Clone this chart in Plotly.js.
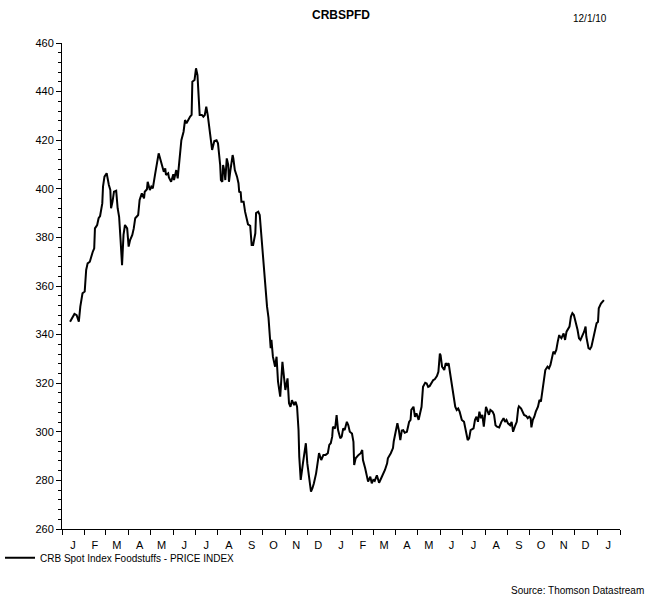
<!DOCTYPE html>
<html>
<head>
<meta charset="utf-8">
<script src="https://cdn.plot.ly/plotly-3.0.1.min.js"></script>
<style>html,body{margin:0;padding:0;background:#fff;}#chart{width:650px;height:603px;}</style>
</head>
<body>
<div id="chart"></div>
<script>
// CRB Spot Index Foodstuffs - PRICE INDEX
const dates = [
"2008-01-12","2008-01-18","2008-01-21","2008-01-24","2008-01-26","2008-01-29","2008-02-01","2008-02-03","2008-02-05","2008-02-08",
"2008-02-12","2008-02-14","2008-02-15","2008-02-18","2008-02-20","2008-02-22","2008-02-25","2008-02-26","2008-02-28","2008-03-02",
"2008-03-05","2008-03-07","2008-03-08","2008-03-10","2008-03-12","2008-03-15","2008-03-17","2008-03-19","2008-03-21","2008-03-22",
"2008-03-23","2008-03-25","2008-03-27","2008-03-30","2008-04-01","2008-04-03","2008-04-06","2008-04-08","2008-04-10","2008-04-14",
"2008-04-16","2008-04-19","2008-04-22","2008-04-23","2008-04-26","2008-04-27","2008-04-30","2008-05-02","2008-05-04","2008-05-07",
"2008-05-09","2008-05-12","2008-05-14","2008-05-17","2008-05-19","2008-05-21","2008-05-22","2008-05-25","2008-05-26","2008-05-29",
"2008-06-01","2008-06-02","2008-06-05","2008-06-07","2008-06-09","2008-06-10","2008-06-12","2008-06-15","2008-06-17","2008-06-19",
"2008-06-21","2008-06-24","2008-06-26","2008-06-27","2008-06-30","2008-07-02","2008-07-04","2008-07-05","2008-07-07","2008-07-10",
"2008-07-12","2008-07-14","2008-07-16","2008-07-18","2008-07-20","2008-07-22","2008-07-24","2008-07-27","2008-07-30","2008-08-01",
"2008-08-04","2008-08-05","2008-08-07","2008-08-08","2008-08-10","2008-08-11","2008-08-13","2008-08-15","2008-08-16","2008-08-18",
"2008-08-21","2008-08-22","2008-08-24","2008-08-27","2008-08-29","2008-08-30","2008-09-01","2008-09-02","2008-09-05","2008-09-07",
"2008-09-09","2008-09-11","2008-09-14","2008-09-16","2008-09-18","2008-09-21","2008-09-22","2008-09-25","2008-09-27","2008-09-29",
"2008-10-01","2008-10-03","2008-10-05","2008-10-07","2008-10-09","2008-10-11","2008-10-12","2008-10-13","2008-10-15","2008-10-18",
"2008-10-20","2008-10-22","2008-10-25","2008-10-28","2008-10-30","2008-11-01","2008-11-04","2008-11-06","2008-11-08","2008-11-10",
"2008-11-13","2008-11-15","2008-11-17","2008-11-19","2008-11-20","2008-11-21","2008-11-22","2008-11-25","2008-11-27","2008-11-29",
"2008-12-01","2008-12-02","2008-12-05","2008-12-06","2008-12-08","2008-12-10","2008-12-13","2008-12-15","2008-12-17","2008-12-20",
"2008-12-23","2008-12-26","2008-12-29","2008-12-31","2009-01-02","2009-01-04","2009-01-05","2009-01-08","2009-01-10","2009-01-12",
"2009-01-15","2009-01-17","2009-01-19","2009-01-21","2009-01-24","2009-01-26","2009-01-28","2009-01-31","2009-02-02","2009-02-03",
"2009-02-05","2009-02-09","2009-02-12","2009-02-14","2009-02-15","2009-02-18","2009-02-20","2009-02-22","2009-02-25","2009-02-27",
"2009-03-01","2009-03-03","2009-03-06","2009-03-09","2009-03-12","2009-03-14","2009-03-17","2009-03-20","2009-03-21","2009-03-25",
"2009-03-28","2009-03-29","2009-04-01","2009-04-03","2009-04-05","2009-04-07","2009-04-09","2009-04-11","2009-04-13","2009-04-16",
"2009-04-18","2009-04-19","2009-04-21","2009-04-22","2009-04-25","2009-04-27","2009-04-29","2009-05-02","2009-05-04","2009-05-06",
"2009-05-08","2009-05-11","2009-05-13","2009-05-15","2009-05-17","2009-05-20","2009-05-22","2009-05-24","2009-05-27","2009-05-29",
"2009-05-31","2009-06-01","2009-06-03","2009-06-06","2009-06-08","2009-06-10","2009-06-12","2009-06-14","2009-06-16","2009-06-18",
"2009-06-21","2009-06-23","2009-06-25","2009-06-27","2009-06-30","2009-07-03","2009-07-05","2009-07-08","2009-07-10","2009-07-12",
"2009-07-16","2009-07-18","2009-07-20","2009-07-22","2009-07-24","2009-07-26","2009-07-28","2009-07-30","2009-08-02","2009-08-04",
"2009-08-06","2009-08-08","2009-08-11","2009-08-13","2009-08-15","2009-08-17","2009-08-20","2009-08-23","2009-08-26","2009-08-28",
"2009-08-30","2009-09-01","2009-09-04","2009-09-06","2009-09-08","2009-09-11","2009-09-13","2009-09-15","2009-09-16","2009-09-19",
"2009-09-21","2009-09-23","2009-09-26","2009-09-28","2009-09-30","2009-10-02","2009-10-03","2009-10-05","2009-10-07","2009-10-09",
"2009-10-12","2009-10-14","2009-10-16","2009-10-18","2009-10-19","2009-10-21","2009-10-22","2009-10-25","2009-10-27","2009-10-29",
"2009-10-31","2009-11-02","2009-11-04","2009-11-06","2009-11-08","2009-11-10","2009-11-11","2009-11-13","2009-11-16","2009-11-18",
"2009-11-20","2009-11-22","2009-11-24","2009-11-26","2009-11-28","2009-11-30","2009-12-02","2009-12-05","2009-12-07","2009-12-09",
"2009-12-11","2009-12-14","2009-12-16","2009-12-17","2009-12-20","2009-12-22","2009-12-24","2009-12-26","2009-12-29","2009-12-31",
"2010-01-02","2010-01-03","2010-01-06","2010-01-08","2010-01-10"
];
const values = [
345.3,348.5,348,345.3,351.5,357,357.7,366.6,369.3,370,
374.1,375.5,383.7,385.1,387.9,388.8,394,400.9,405,406.4,
401.6,399.5,392,394.7,398.8,399.2,392,388.5,378.9,368.6,
368.6,381,385.1,383.7,376.2,378.9,381,383.7,387.9,389.2,
395.4,398.1,396.1,398.8,399.8,402.9,399.5,400.9,400.2,405.7,
409.1,414.6,412.5,408.4,407,408.4,405.7,406.4,404.7,402.9,
406,403.6,407.7,404.3,410.5,415.3,420,423.5,428.3,427,
428.3,429.7,430.4,444.1,444.8,449.6,446.8,441.4,430.4,430.4,
429.7,430.4,433.8,430.4,425.6,419.4,416,419.7,420,418.7,
409.8,403.6,402.9,409.8,407,403.6,412.5,409.8,402.9,407.7,
413.9,412.5,407.7,405,402.3,398.8,398.6,394.7,394.7,390.6,
388.5,385.4,384.8,376.9,376.9,381.7,390,390.6,389.2,381,
375.5,364.5,359,351.5,347,340,334.4,337.8,330.9,326.8,
330.9,320.6,314.5,328.8,321.3,317.2,322,311.7,310.3,313,
311,312.4,310.3,300.7,289.8,284.3,280.2,287,292.5,295.3,
287,284.3,278.8,275.4,276.8,278.8,282.9,287,291.2,288.4,
290.5,290.5,291.2,294.6,295.3,298,302.1,301.4,306.9,300.7,
297.3,298,301.4,300.7,304.1,302.7,300,299.3,295.9,286.3,
289.1,290.5,291.2,292.5,288.4,285,282.2,279.5,281.5,278.8,
280.2,279.8,282.1,279,281,282.2,284.3,287,289.1,291.2,
293.3,296,300,303.5,300.7,296.6,300.5,300.7,299.6,300,
302.7,304.1,304.9,309,310.3,306.2,307.6,304.9,307.6,310.3,
318.5,320.2,319.9,318.5,318.8,320.6,321.3,321.6,322.9,324.7,
332.2,331.5,326.8,325.4,328.2,327.5,328.2,324.1,319.9,316.5,
310.3,309,309.6,308.3,304.9,304.1,301.4,296.6,297.3,300.7,
301.4,304.9,306.2,304.1,308.3,305.6,307,302.1,310.3,308.3,
307,309,308.3,307,302.7,302.1,301.8,304.1,305.6,304.1,
304.9,303.5,302.7,304.1,300,302.7,304.1,309.6,310.5,309.6,
308.3,306.9,306.5,305.6,306.2,305.6,301.8,304.9,306.2,308.3,
310.3,313.1,312.4,317.2,319.3,322,325.4,326.8,326.1,327.5,
330.3,333,332.3,333.7,337.1,339.8,339.2,338.5,340.5,337.8,
341.2,342,343.3,347.4,348.8,348.1,346,342,338.5,337.8,
339.2,341.2,343.3,339.2,334.4,334,335,337.8,341.2,344.7,
345.3,350.8,352.8,353.5,354.2
];

// Axis ticks: month boundaries and single-letter month labels (centred in each month)
const monthStarts = [
"2008-01-01","2008-02-01","2008-03-01","2008-04-01","2008-05-01","2008-06-01","2008-07-01","2008-08-01","2008-09-01",
"2008-10-01","2008-11-01","2008-12-01","2009-01-01","2009-02-01","2009-03-01","2009-04-01","2009-05-01","2009-06-01",
"2009-07-01","2009-08-01","2009-09-01","2009-10-01","2009-11-01","2009-12-01","2010-01-01","2010-02-01"
];
const monthMids = [
"2008-01-16","2008-02-15","2008-03-16","2008-04-16","2008-05-16","2008-06-16","2008-07-16","2008-08-16","2008-09-16",
"2008-10-16","2008-11-16","2008-12-16","2009-01-16","2009-02-15","2009-03-16","2009-04-16","2009-05-16","2009-06-16",
"2009-07-16","2009-08-16","2009-09-16","2009-10-16","2009-11-16","2009-12-16","2010-01-16"
];
const monthLetters = ["J","F","M","A","M","J","J","A","S","O","N","D","J","F","M","A","M","J","J","A","S","O","N","D","J"];
const yTicks = [260,280,300,320,340,360,380,400,420,440,460];

const FONT = "Liberation Sans, Arial, sans-serif";

const trace = {
  x: dates, y: values, type: "scatter", mode: "lines",
  name: "CRB Spot Index Foodstuffs - PRICE INDEX",
  line: {color: "#000000", width: 2}
};

const layout = {
  width: 650, height: 603,
  margin: {l: 62, r: 30, t: 43, b: 74, autoexpand: false},
  paper_bgcolor: "#ffffff", plot_bgcolor: "#ffffff",
  font: {family: FONT, size: 11, color: "#000"},
  title: {text: "<b>CRBSPFD</b>", font: {family: FONT, size: 12, color: "#000"}, x: 0.5, xref: "paper", xanchor: "center", y: 0.975, yref: "container", yanchor: "middle"},
  showlegend: true,
  legend: {xref: "container", yref: "container", x: -0.005, xanchor: "left", y: 0.075, yanchor: "middle", orientation: "h", font: {family: FONT, size: 10, color: "#000"}, bgcolor: "rgba(0,0,0,0)", itemwidth: 30},
  xaxis: {
    type: "date", range: ["2008-01-01", "2010-02-01"],
    showgrid: false, zeroline: false, showline: true, linecolor: "#000", linewidth: 1,
    tickmode: "array", tickvals: monthMids, ticktext: monthLetters,
    ticks: "outside", ticklen: 6, tickcolor: "rgba(0,0,0,0)",
    tickfont: {family: FONT, size: 11, color: "#000"},
    minor: {tickmode: "array", tickvals: monthStarts, ticks: "outside", ticklen: 5, tickcolor: "#000", tickwidth: 1, showgrid: false},
    fixedrange: true
  },
  yaxis: {
    range: [260, 460], showgrid: false, zeroline: false,
    showline: true, linecolor: "#000", linewidth: 1,
    tickmode: "array", tickvals: yTicks,
    ticks: "outside", ticklen: 5, tickcolor: "#000", tickwidth: 1,
    tickfont: {family: FONT, size: 11, color: "#000"},
    minor: {dtick: 4, ticks: "outside", ticklen: 3, tickcolor: "#000", tickwidth: 1, showgrid: false},
    fixedrange: true
  },
  annotations: [
    {text: "12/1/10", xref: "paper", yref: "paper", x: 0.946, y: 1.05, xanchor: "center", yanchor: "middle", showarrow: false, font: {family: FONT, size: 10, color: "#000"}},
    {text: "Source: Thomson Datastream", xref: "paper", yref: "paper", x: 1.047, y: -0.126, xanchor: "right", yanchor: "middle", showarrow: false, font: {family: FONT, size: 10, color: "#000"}}
  ]
};

Plotly.newPlot("chart", [trace], layout, {displayModeBar: false, staticPlot: true});
</script>
</body>
</html>
